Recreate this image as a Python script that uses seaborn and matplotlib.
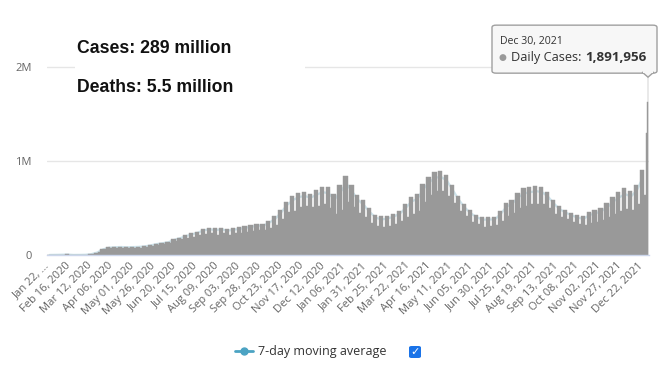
import matplotlib
matplotlib.use('Agg')
import matplotlib.pyplot as plt
import matplotlib.patches as mpatches
from matplotlib.lines import Line2D
import numpy as np
import pandas as pd
import seaborn as sns

START = pd.Timestamp('2020-01-22')

# daily cases in thousands, one pair per week:
# high = Tue..Sat block, low = Sun..Mon block (weeks from Jan 21, 2020)
weekly_high = [1, 2, 3.5, 6, 1, 1.5, 3, 8, 25, 60,
               80, 85, 88, 85, 88, 90, 95, 105, 120, 130,
               140, 165, 185, 210, 230, 250, 280, 290, 285, 290,
               275, 285, 295, 310, 315, 330, 330, 365, 410, 480,
               560, 630, 660, 670, 650, 690, 720, 720, 650, 745,
               840, 740, 640, 580, 500, 430, 410, 420, 440, 470,
               540, 620, 650, 760, 830, 880, 890, 850, 740, 630,
               540, 480, 430, 405, 405, 400, 465, 550, 590, 660,
               710, 720, 735, 720, 670, 590, 520, 480, 450, 425,
               410, 460, 480, 505, 550, 620, 670, 710, 680, 750,
               900]
weekly_low = [0.5, 1.7, 2.6, 2.5, 0.6, 1.2, 2.5, 10, 30, 60,
              72, 76, 78, 75, 75, 78, 82, 95, 105, 112,
              125, 150, 165, 180, 195, 210, 220, 230, 215, 230,
              215, 230, 230, 240, 260, 270, 265, 290, 320, 380,
              460, 470, 510, 520, 510, 520, 540, 500, 440, 480,
              560, 510, 450, 400, 340, 310, 300, 310, 330, 360,
              400, 440, 470, 560, 640, 680, 680, 630, 550, 470,
              410, 350, 330, 300, 310, 320, 360, 420, 450, 500,
              520, 540, 540, 540, 500, 440, 400, 380, 350, 330,
              320, 340, 350, 370, 400, 440, 470, 490, 480, 540,
              640]
final_dates = ['2021-12-28', '2021-12-29', '2021-12-30']
final_cases = [1300000, 1630000, 1891956]

tick_labels = ['Jan 22, ...', 'Feb 16, 2020', 'Mar 12, 2020', 'Apr 06, 2020', 'May 01, 2020',
               'May 26, 2020', 'Jun 20, 2020', 'Jul 15, 2020', 'Aug 09, 2020', 'Sep 03, 2020',
               'Sep 28, 2020', 'Oct 23, 2020', 'Nov 17, 2020', 'Dec 12, 2020', 'Jan 06, 2021',
               'Jan 31, 2021', 'Feb 25, 2021', 'Mar 22, 2021', 'Apr 16, 2021', 'May 11, 2021',
               'Jun 05, 2021', 'Jun 30, 2021', 'Jul 25, 2021', 'Aug 19, 2021', 'Sep 13, 2021',
               'Oct 08, 2021', 'Nov 02, 2021', 'Nov 27, 2021', 'Dec 22, 2021']
y_ticks = [0, 1_000_000, 2_000_000]
y_tick_labels = ['0', '1M', '2M']

BAR = '#999999'
AVG = '#cfe4ec'
TEAL = '#4ba3c3'
W, H = 666, 372


def px(x, y_top):
    return x / W, 1 - y_top / H


sns.set_style('white')
plt.rcParams['font.family'] = ['Open Sans', 'DejaVu Sans']

fig = plt.figure(figsize=(W / 100, H / 100), dpi=100)
px_per_day = 600 / 708
x_lo, x_hi = -1.5, 709.5
left = 48 + x_lo * px_per_day
ax = fig.add_axes([left / W, 117 / H, (x_hi - x_lo) * px_per_day / W, 197.4 / H])

weeks = np.arange(len(weekly_high))
high_df = pd.DataFrame({'day': 7 * weeks + 1.0, 'cases': np.array(weekly_high) * 1000})
low_df = pd.DataFrame({'day': 7 * weeks + 4.5, 'cases': np.array(weekly_low) * 1000})
final_df = pd.DataFrame({'day': (pd.to_datetime(final_dates) - START).days.astype(float),
                         'cases': final_cases})
avg_df = pd.DataFrame({'day': 7 * weeks + 2.0,
                       'cases': (5 * high_df['cases'] + 2 * low_df['cases']) / 7})

bar_kw = dict(x='day', y='cases', orient='x', native_scale=True, color=BAR, saturation=1,
              errorbar=None, edgecolor=BAR, linewidth=0.3, ax=ax)
sns.barplot(data=high_df, width=5 / 7, **bar_kw)
sns.barplot(data=low_df, width=2 / 7, **bar_kw)
sns.barplot(data=final_df, width=1.0, **bar_kw)
sns.lineplot(data=avg_df, x='day', y='cases', color=AVG, lw=1.6, ax=ax, zorder=0.8)

ax.set_xlim(x_lo, x_hi)
ax.set_ylim(0, 2.1e6)
ax.set_xticks(np.arange(len(tick_labels)) * 25)
ax.set_xticklabels(tick_labels, rotation=45, ha='right', va='center', rotation_mode='anchor',
                   fontsize=8, color='#666666')
ax.set_yticks(y_ticks)
ax.set_yticklabels(y_tick_labels, fontsize=8, color='#666666')
ax.tick_params(axis='x', length=0, pad=6.5)
ax.tick_params(axis='y', length=0, pad=11)
ax.set_xlabel('')
ax.set_ylabel('')
ax.set_axisbelow(True)
ax.yaxis.grid(True, color='#e6e6e6', lw=1)
for side in ['top', 'right', 'left']:
    ax.spines[side].set_visible(False)
ax.spines['bottom'].set_color('#ccd6eb')
ax.spines['bottom'].set_linewidth(1)

# headline totals on a white card
fig.add_artist(mpatches.Rectangle(px(75, 105), 230 / W, 83 / H, fc='white', ec='none', zorder=1))
fig.text(*px(77, 52.7), 'Cases: 289 million', family='Liberation Sans', weight='bold',
         size=12.7, va='baseline', color='#111111', zorder=2)
fig.text(*px(77, 91.7), 'Deaths: 5.5 million', family='Liberation Sans', weight='bold',
         size=12.7, va='baseline', color='#111111', zorder=2)

# tooltip for the last point
tip = ax.transData.transform((final_df['day'].iloc[-1], final_df['cases'].iloc[-1]))
tx, ty = tip[0], H - tip[1]
box = mpatches.FancyBboxPatch(px(tx - 156, ty - 4), 165 / W, 48 / H,
                              boxstyle='round,pad=0,rounding_size=0.006',
                              fc='#f7f7f7', ec='#a0a0a0', lw=1, zorder=5)
fig.add_artist(box)
pointer = mpatches.Polygon([px(tx - 6, ty - 5.2), px(tx, ty), px(tx + 6, ty - 5.2)],
                           closed=False, fc='#f7f7f7', ec='#a0a0a0', lw=1, zorder=6)
fig.add_artist(pointer)
fig.add_artist(mpatches.Rectangle(px(tx - 5, ty - 4.6), 10 / W, 1.6 / H,
                                  fc='#f7f7f7', ec='none', zorder=6.5))
fig.text(*px(tx - 148, ty - 36), 'Dec 30, 2021', size=7.6, color='#333333',
         va='center', zorder=7)
fig.text(*px(tx - 146, ty - 20), '●', size=6.5, color=BAR, va='center', ha='center', zorder=7)
fig.text(*px(tx - 137, ty - 20), 'Daily Cases:', size=9.2, color='#333333',
         va='center', zorder=7)
fig.text(*px(tx - 63, ty - 20), '1,891,956', size=9.6, weight='bold', color='#333333',
         va='center', ha='left', zorder=7)

# legend with its checkbox
handle = Line2D([0], [0], color=TEAL, lw=2, marker='o', ms=5)
ax.legend([handle], ['7-day moving average'], loc='center', bbox_to_anchor=px(311, 352),
          bbox_transform=fig.transFigure, frameon=False, handlelength=1.4,
          handletextpad=0.45, prop={'size': 9, 'family': 'Open Sans'}, labelcolor='#333333')
fig.add_artist(mpatches.FancyBboxPatch(px(409, 358), 12 / W, 12 / H,
                                       boxstyle='round,pad=0,rounding_size=0.004',
                                       fc='#1a73e8', ec='none', zorder=3))
fig.text(*px(415, 352), '✓', family='DejaVu Sans', weight='bold', size=8, color='white',
         ha='center', va='center', zorder=4)

fig.savefig('out.png', dpi=100)
plt.close(fig)
